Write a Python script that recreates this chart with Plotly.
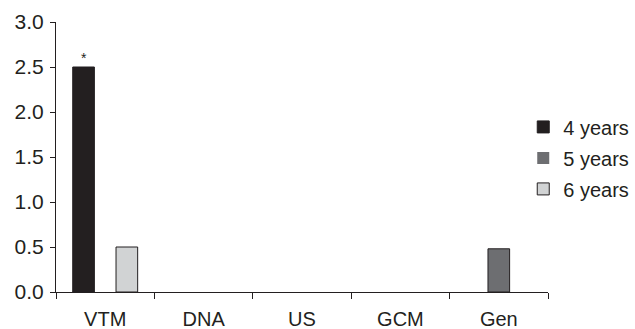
import plotly.graph_objects as go

# Categories and values per follow-up group
categories = ["VTM", "DNA", "US", "GCM", "Gen"]
years4 = [2.5, 0, 0, 0, 0]
years5 = [0, 0, 0, 0, 0.48]
years6 = [0.5, 0, 0, 0, 0]
series_names = ["4 years", "5 years", "6 years"]
series_colors = ["#231f20", "#6d6e71", "#d1d3d4"]
y_ticks = [0.0, 0.5, 1.0, 1.5, 2.0, 2.5, 3.0]

axis_color = "#231f20"
font = dict(family="Liberation Sans, Arial, sans-serif", size=20, color="#231f20")
yfont = dict(family="Liberation Sans, Arial, sans-serif", size=21, color="#231f20")

fig = go.Figure()
for name, vals, col in zip(series_names, [years4, years5, years6], series_colors):
    # empty (zero) bars get no outline so they don't thicken the axis
    widths = [1 if v > 0 else 0 for v in vals]
    fig.add_trace(go.Bar(
        x=categories, y=vals, name=name, legendgroup=name,
        marker=dict(color=col, line=dict(color=axis_color, width=widths)),
    ))

# significance marker above the tallest bar
fig.add_annotation(x="VTM", y=years4[0], text="*", showarrow=False,
                   xshift=-21.5, yshift=9, font=dict(size=14, color=axis_color))

fig.update_layout(
    width=635, height=329,
    margin=dict(l=56, r=87, t=22, b=37, autoexpand=False),
    paper_bgcolor="white", plot_bgcolor="white",
    font=font,
    barmode="group", bargap=0.34, bargroupgap=0,
    showlegend=True,
    legend=dict(xref="container", x=0.824, xanchor="left",
                yref="container", y=0.52, yanchor="middle",
                font=dict(size=20), tracegroupgap=2, itemwidth=30,
                bgcolor="rgba(0,0,0,0)"),
    xaxis=dict(
        showline=True, linecolor=axis_color, linewidth=1,
        ticks="outside", ticklen=6, tickcolor=axis_color,
        tickson="boundaries", showgrid=False, zeroline=False,
        tickfont=font, automargin=False, ticklabelstandoff=9,
    ),
    yaxis=dict(
        range=[0, 3.0], tickvals=y_ticks, tickformat=".1f",
        showline=True, linecolor=axis_color, linewidth=1,
        ticks="outside", ticklen=5, tickcolor=axis_color,
        showgrid=False, zeroline=False, tickfont=yfont, automargin=False,
        ticklabelstandoff=2,
    ),
)

fig.write_html("out.html")
